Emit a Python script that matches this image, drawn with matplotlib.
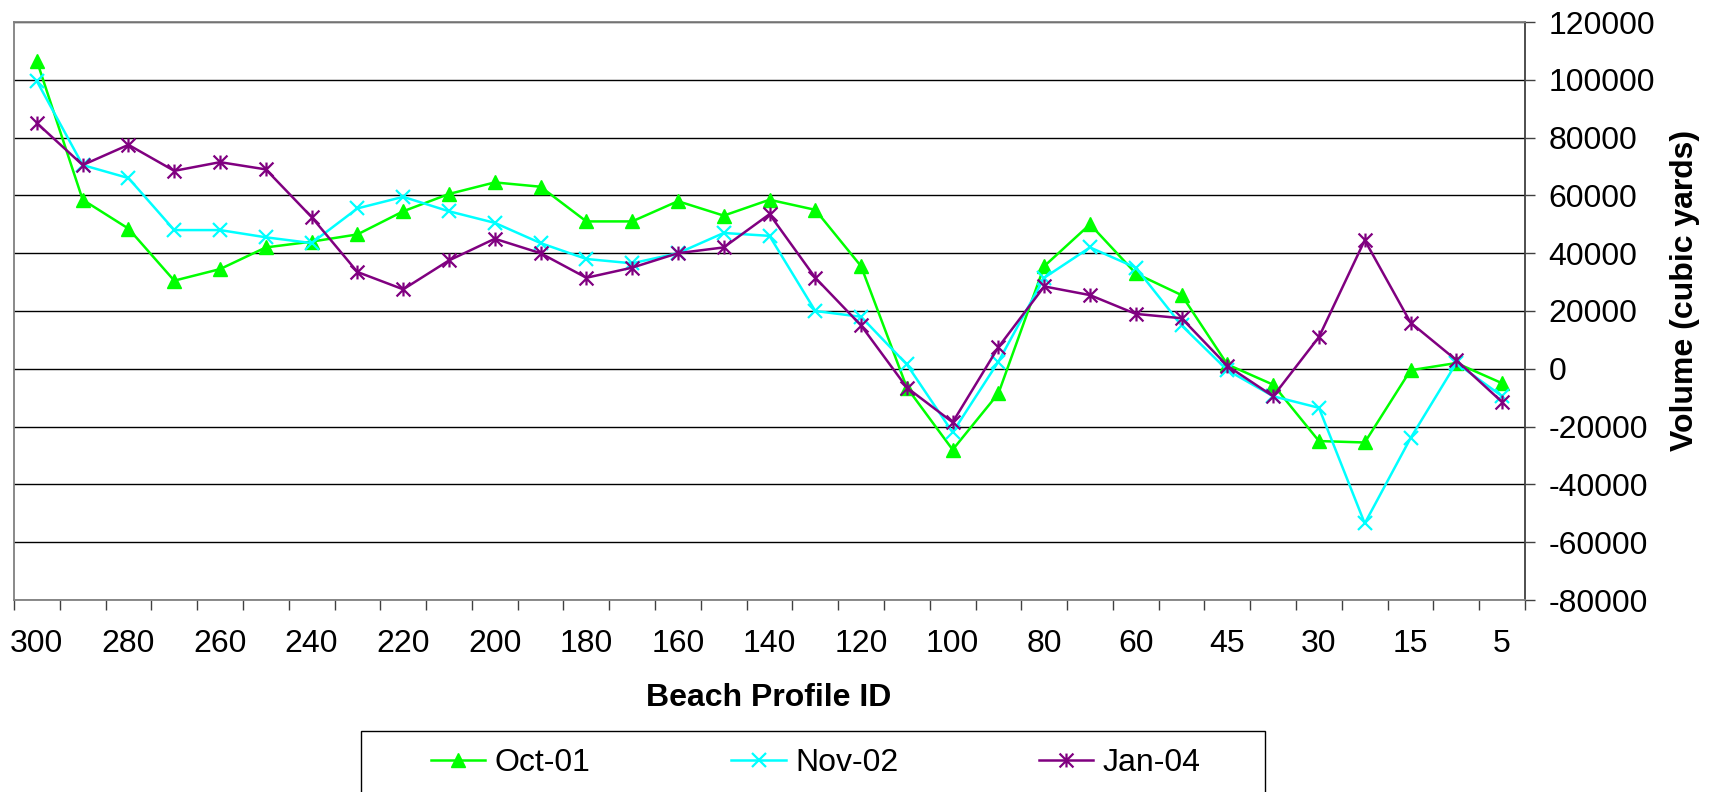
import numpy as np
import matplotlib
matplotlib.use('Agg')
import matplotlib.pyplot as plt
from matplotlib.path import Path
from matplotlib.patches import Rectangle

profile_ids = [300, 290, 280, 270, 260, 250, 240, 230, 220, 210, 200, 190, 180, 170,
               160, 150, 140, 130, 120, 110, 100, 90, 80, 70, 60, 50, 45, 40, 30, 20,
               15, 10, 5]
oct01 = [106500, 58500, 48500, 30500, 34500, 42000, 44000, 46500, 54500, 60500, 64500,
         63000, 51000, 51000, 58000, 53000, 58500, 55000, 35500, -6500, -28000, -8500,
         35500, 50000, 33000, 25500, 1500, -5500, -25000, -25500, -500, 2000, -5000]
nov02 = [99500, 70500, 66000, 48000, 48000, 45500, 43500, 55500, 59500, 54500, 50500,
         43500, 38000, 36500, 40000, 47000, 46000, 20000, 18000, 1500, -22000, 2500,
         31500, 42000, 35000, 15000, -500, -9500, -13500, -53500, -24000, 2000, -9500]
jan04 = [85000, 70500, 77500, 68500, 71500, 69000, 52500, 33500, 27500, 37500, 45000,
         40000, 31500, 35000, 40000, 42000, 53500, 31500, 15000, -6500, -18500, 7500,
         28500, 25500, 19000, 17500, 1000, -9500, 11000, 44500, 16000, 3000, -11500]
series_names = ['Oct-01', 'Nov-02', 'Jan-04']
y_ticks = list(range(-80000, 120001, 20000))

plt.rcParams['font.family'] = ['Liberation Sans', 'DejaVu Sans']
plt.rcParams['axes.unicode_minus'] = False
fs = 23

# excel style star: an X with a vertical bar
star = Path([(-1, -1), (1, 1), (-1, 1), (1, -1), (0, -1), (0, 1)],
            [Path.MOVETO, Path.LINETO, Path.MOVETO, Path.LINETO, Path.MOVETO, Path.LINETO])

W, H = 1716, 792
fig = plt.figure(figsize=(W / 100, H / 100), dpi=100)
ax = fig.add_axes([14 / W, 1 - 600 / H, (1525 - 14) / W, (600 - 22) / H])

x = np.arange(len(profile_ids))
ax.plot(x, oct01, color='#00FF00', lw=1.8, marker='^', ms=10.5, mec='#00FF00',
        mfc='#00FF00', label=series_names[0], zorder=3)
ax.plot(x, nov02, color='#00FFFF', lw=1.8, marker='x', ms=10, mew=1.6,
        label=series_names[1], zorder=4)
ax.plot(x, jan04, color='#800080', lw=1.8, marker=star, ms=10, mew=1.6,
        label=series_names[2], zorder=5)

ax.set_xlim(-0.5, len(profile_ids) - 0.5)
ax.set_ylim(-80000, 120000)

ax.set_yticks(y_ticks)
ax.yaxis.tick_right()
ax.tick_params(axis='y', which='major', length=7, width=1, pad=10, labelsize=fs,
               color='#404040')
ax.grid(axis='y', color='black', lw=1)
ax.set_axisbelow(True)

ax.set_xticks(x[::2])
ax.set_xticklabels([str(p) for p in profile_ids[::2]])
ax.set_xticks(np.arange(len(profile_ids) + 1) - 0.5, minor=True)
ax.tick_params(axis='x', which='major', length=0, pad=21, labelsize=fs)
ax.tick_params(axis='x', which='minor', length=7, width=1, color='#404040')

for side in ['left', 'top', 'bottom']:
    ax.spines[side].set_color('#808080')
    ax.spines[side].set_linewidth(1.3)
ax.spines['right'].set_color('#404040')
ax.spines['right'].set_linewidth(1.3)

fig.text(769 / W, 1 - 698 / H, 'Beach Profile ID', ha='center', va='center',
         fontsize=fs, fontweight='bold')
fig.text(1685 / W, 1 - 290 / H, 'Volume (cubic yards)', ha='center', va='center',
         rotation=90, fontsize=fs, fontweight='bold')

fig.legend(loc='center', bbox_to_anchor=(816 / W, 1 - 763 / H), ncol=3, frameon=False,
           fontsize=fs, handlelength=1.7, handletextpad=0.3, columnspacing=4.4,
           numpoints=1)
fig.add_artist(Rectangle((361 / W, -0.02), (1265 - 361) / W, (792 - 731) / H + 0.02,
                         transform=fig.transFigure, fill=False, ec='black', lw=1))

fig.savefig('out.png', dpi=100)
plt.close(fig)
